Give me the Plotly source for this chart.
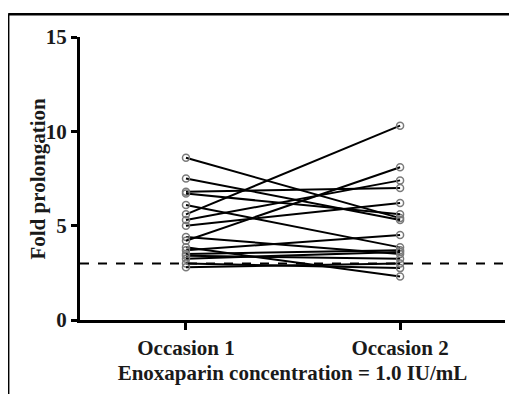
import plotly.graph_objects as go

occasions = ["Occasion 1", "Occasion 2"]
occasion_1 = [8.6, 7.5, 6.8, 6.7, 6.1, 5.6, 5.3, 5.0, 4.4, 4.2, 3.85, 3.7, 3.5, 3.4, 3.25, 3.0, 2.8]
occasion_2 = [5.4, 5.3, 7.0, 5.6, 3.85, 10.3, 7.4, 6.2, 3.5, 8.1, 2.3, 4.5, 3.7, 3.25, 3.6, 2.75, 3.0]
y_ticks = [0, 5, 10, 15]
cutoff = 3.0

FONT = "Liberation Serif"
FS = 21
fig = go.Figure()
for a, b in zip(occasion_1, occasion_2):
    fig.add_trace(go.Scatter(
        x=[1, 2], y=[a, b], mode="lines+markers",
        line=dict(color="black", width=2),
        marker=dict(symbol="circle-open", size=7, color="#7a7a7a", line=dict(width=1.5)),
        showlegend=False, hoverinfo="skip"))

fig.add_shape(type="line", xref="paper", yref="y", x0=0, x1=1, y0=cutoff, y1=cutoff,
              line=dict(color="black", width=2, dash="dash"))
# image frame (top and left edges)
fig.add_shape(type="line", xref="paper", yref="paper", x0=-0.169, x1=1.05, y0=1.08, y1=1.08,
              line=dict(color="black", width=2.5))
fig.add_shape(type="line", xref="paper", yref="paper", x0=-0.169, x1=-0.169, y0=1.08, y1=-0.3,
              line=dict(color="black", width=2.5))

bold = lambda s: "<b>%s</b>" % s
fig.add_annotation(text=bold("Fold prolongation"), xref="paper", yref="paper",
                   x=-0.101, y=0.5, xanchor="center", yanchor="middle",
                   textangle=-90, showarrow=False, font=dict(family=FONT, size=FS))
fig.update_layout(
    width=509, height=386,
    margin=dict(l=72, r=12, t=29, b=67),
    paper_bgcolor="white", plot_bgcolor="white",
    font=dict(family=FONT, size=FS, color="#1a1a1a"),
    xaxis=dict(range=[0.505, 2.49], tickvals=[1, 2], ticktext=[bold(o) for o in occasions],
               showline=True, linecolor="black", linewidth=3,
               ticks="outside", ticklen=7, tickwidth=3, tickcolor="black",
               showgrid=False, zeroline=False,
               tickfont=dict(family=FONT, size=FS),
               title=dict(text=bold("Enoxaparin concentration = 1.0 IU/mL"),
                          font=dict(family=FONT, size=FS), standoff=7)),
    yaxis=dict(range=[0, 15], tickvals=y_ticks, ticktext=[bold(t) for t in y_ticks],
               showline=True, linecolor="black", linewidth=3,
               ticks="outside", ticklen=6, tickwidth=3, tickcolor="black",
               showgrid=False, zeroline=False,
               tickfont=dict(family=FONT, size=FS)),
)
fig.write_html("out.html")
